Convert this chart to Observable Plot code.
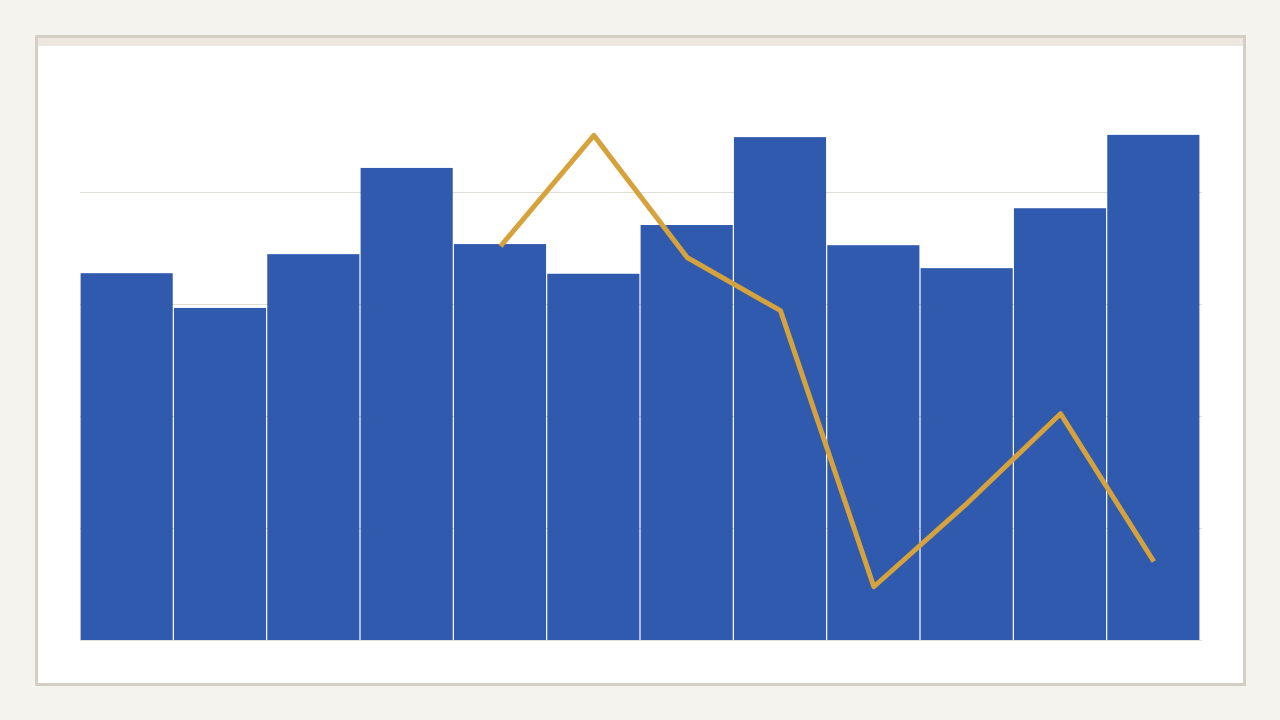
<!DOCTYPE html>
<html>
<head>
<meta charset="utf-8">
<script src="https://cdn.jsdelivr.net/npm/d3@7"></script>
<script src="https://cdn.jsdelivr.net/npm/@observablehq/plot@0.6"></script>
<style>
  html, body { margin: 0; padding: 0; background: #f5f3ee; width: 1280px; height: 720px; overflow: hidden; }
  #card {
    position: absolute; left: 35px; top: 35px;
    width: 1205px; height: 645px;
    border: 3px solid #d4cfc4; background: #ffffff;
  }
  #band { height: 8px; background: #ece8df; }
  #chart svg { display: block; }
</style>
</head>
<body>
<div id="card"><div id="band"></div><div id="chart"></div></div>
<script>
const categories = ["Jan","Feb","Mar","Apr","May","Jun","Jul","Aug","Sep","Oct","Nov","Dec"];
const barValues = [65.5, 59.3, 68.9, 84.3, 70.7, 65.4, 74.1, 89.8, 70.5, 66.4, 77.1, 90.2];
const lineValues = [null, null, null, null, 70.4, 90.2, 68.4, 58.9, 9.6, 24.5, 40.5, 14.1];
const gridTicks = [0, 20, 40, 60, 80];

const rows = categories.map((c, i) => ({cat: c, bar: barValues[i], line: lineValues[i]}));

const chart = Plot.plot({
  width: 1205,
  height: 637,
  marginLeft: 42,
  marginRight: 43,
  marginTop: 34,
  marginBottom: 43,
  style: {background: "transparent"},
  x: {domain: categories, padding: 0, round: false, axis: null},
  y: {domain: [0, 100], axis: null},
  marks: [
    Plot.ruleY(gridTicks, {stroke: "#e0ddd2", strokeWidth: 1, insetRight: -2}),
    Plot.barY(rows, {x: "cat", y: "bar", fill: "#2f5aae", insetLeft: 0.6, insetRight: 0.6}),
    Plot.line(rows, {x: "cat", y: "line", stroke: "#d6a23c", strokeWidth: 5, strokeLinejoin: "round", strokeLinecap: "butt", defined: d => d.line != null})
  ]
});
document.getElementById("chart").appendChild(chart);
</script>
</body>
</html>
